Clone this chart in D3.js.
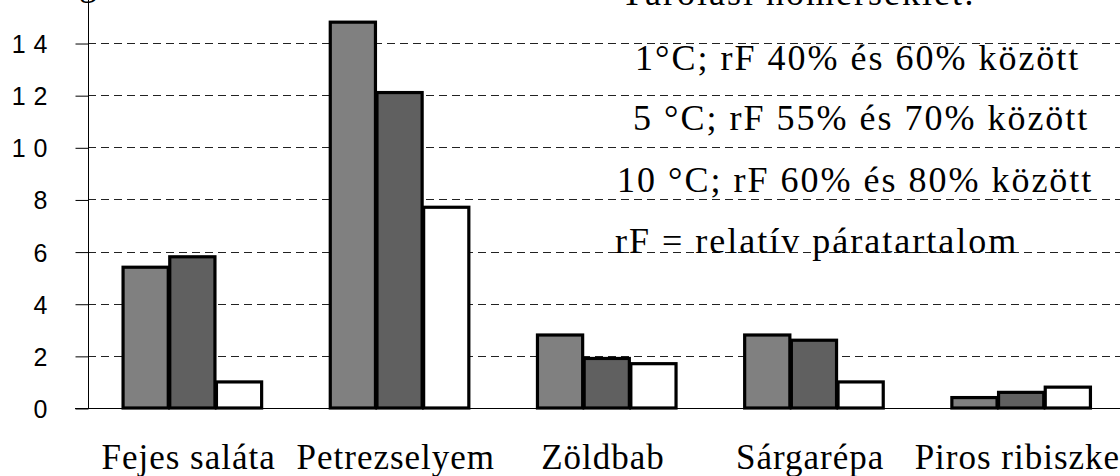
<!DOCTYPE html>
<html>
<head>
<meta charset="utf-8">
<script src="https://cdn.jsdelivr.net/npm/d3@7"></script>
<style>
  body { margin: 0; background: #fff; }
  svg { display: block; }
</style>
</head>
<body>
<svg id="chart"></svg>
<script>
// data
const categories = ["Fejes saláta", "Petrezselyem", "Zöldbab", "Sárgarépa", "Piros ribiszke"];
const seriesKeys = ["t1", "t5", "t10"];
const t1 = [5.4, 14.8, 2.8, 2.8, 0.4];
const t5 = [5.8, 12.1, 1.9, 2.6, 0.6];
const t10 = [1.0, 7.7, 1.7, 1.0, 0.8];
const yTicks = [0, 2, 4, 6, 8, 10, 12, 14];
const yTitle = "Tárolhatóság";
const legendTitle = "Tárolási hőmérséklet:";
const legendLines = [
  "1°C; rF 40% és 60% között",
  "5 °C; rF 55% és 70% között",
  "10 °C; rF 60% és 80% között",
  "rF = relatív páratartalom"
];

const w = 1120, h = 476;
const left = 88, bottom = 408;
const colors = {t1: "#808080", t5: "#606060", t10: "#ffffff"};
const serif = "Liberation Serif, Times New Roman, serif";

const svg = d3.select("#chart").attr("width", w).attr("height", h);

const x = d3.scaleBand().domain(categories).range([left, 1124])
  .paddingInner(0.324).paddingOuter(0.162);
const xs = d3.scaleBand().domain(seriesKeys).range([0, x.bandwidth()]);
const y = d3.scaleLinear().domain([0, 16]).range([bottom, bottom - 16 * 26.07]);

const rows = categories.map((c, i) => ({cat: c, t1: t1[i], t5: t5[i], t10: t10[i]}));

// gridlines
svg.append("g").selectAll("line").data(yTicks.filter(d => d > 0)).join("line")
  .attr("x1", left).attr("x2", w)
  .attr("y1", d => Math.round(y(d)) + 0.5).attr("y2", d => Math.round(y(d)) + 0.5)
  .attr("stroke", "#222").attr("stroke-width", 1)
  .attr("stroke-dasharray", "8,5");

// y axis
const yAxis = d3.axisLeft(y).tickValues(yTicks).tickSize(13).tickPadding(20)
  .tickFormat(d => d);
const gy = svg.append("g").attr("transform", `translate(${left + 0.5},0.5)`).call(yAxis);
gy.select(".domain").attr("d", `M0,${bottom}V-10`).attr("stroke", "#000");
gy.selectAll(".tick line").attr("stroke", "#000");
gy.selectAll(".tick text")
  .attr("font-family", "Liberation Sans, Arial, sans-serif")
  .attr("font-size", 25).attr("fill", "#000")
  .attr("letter-spacing", "8px").attr("dy", "0.36em");

// baseline
svg.append("line").attr("x1", 75).attr("x2", w)
  .attr("y1", Math.round(y(0)) + 0.5).attr("y2", Math.round(y(0)) + 0.5)
  .attr("stroke", "#000").attr("stroke-width", 1.2);

// bars
svg.append("g").selectAll("g").data(rows).join("g")
  .attr("transform", d => `translate(${x(d.cat)},0)`)
  .selectAll("rect").data(d => seriesKeys.map(k => ({key: k, value: d[k]}))).join("rect")
  .attr("x", d => xs(d.key) + 1.5)
  .attr("width", xs.bandwidth() - 1.5)
  .attr("y", d => y(d.value))
  .attr("height", d => y(0) - y(d.value))
  .attr("fill", d => colors[d.key])
  .attr("stroke", "#000").attr("stroke-width", 3.2);

// x labels
const gx = d3.axisBottom(x).tickSize(0).tickPadding(0);
const gxg = svg.append("g").attr("transform", `translate(-3,${bottom})`).call(gx);
gxg.select(".domain").remove();
gxg.selectAll(".tick text")
  .attr("y", 61).attr("dy", 0)
  .attr("font-family", serif)
  .attr("font-size", 35).attr("fill", "#000")
  .attr("letter-spacing", "1px");

// y title (cut at top, as in the source)
svg.append("text").attr("x", 97).attr("y", -5)
  .attr("text-anchor", "end")
  .attr("font-family", serif)
  .attr("font-size", 36).text(yTitle);

// legend text
svg.append("text").attr("x", 621).attr("y", 5)
  .attr("font-family", serif).attr("font-size", 36).attr("letter-spacing", "2px")
  .text(legendTitle);
const legendX = [635, 633, 617, 615];
const legendY = [70, 130, 192, 253];
svg.append("g").selectAll("text").data(legendLines).join("text")
  .attr("x", (d, i) => legendX[i]).attr("y", (d, i) => legendY[i])
  .attr("font-family", serif).attr("font-size", 36)
  .attr("letter-spacing", "2px")
  .text(d => d);
</script>
</body>
</html>
